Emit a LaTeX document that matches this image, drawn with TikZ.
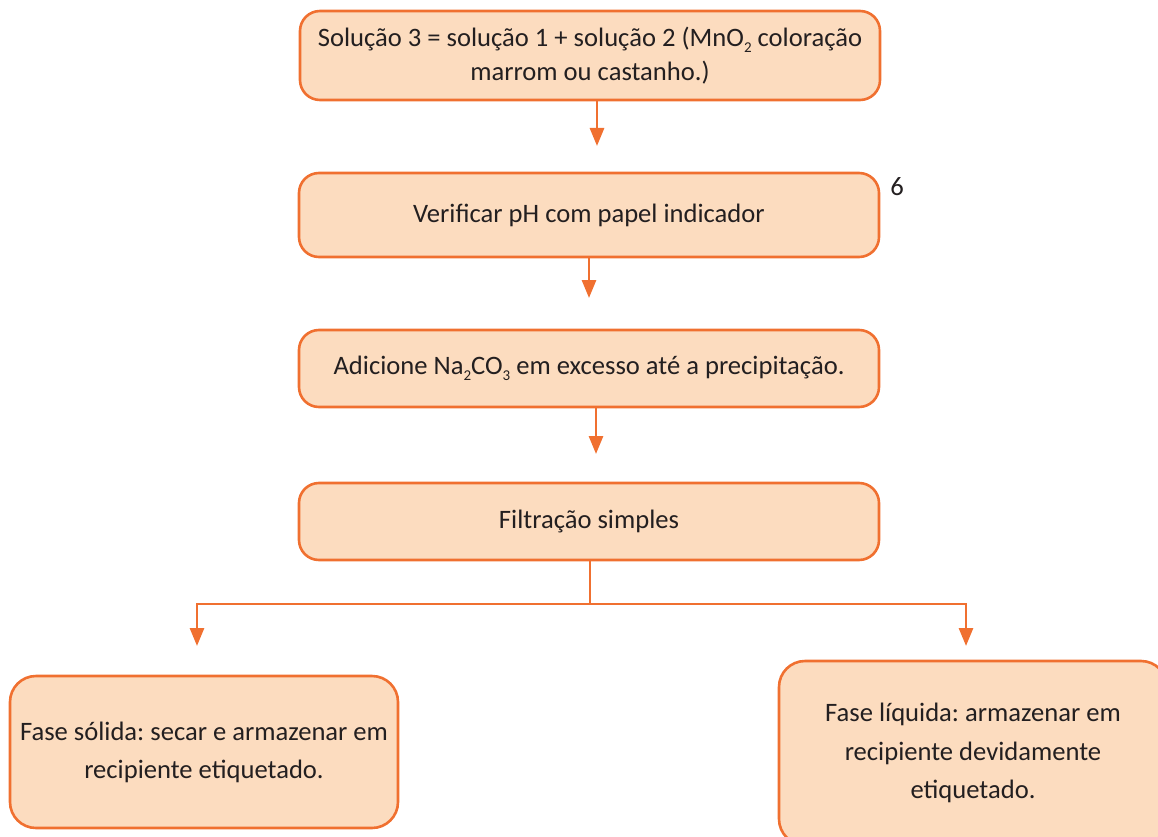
\documentclass[tikz,border=0pt]{standalone}
\usepackage{fontspec}
\setmainfont{Carlito}
\frenchspacing
\usetikzlibrary{arrows.meta}
\definecolor{peach}{RGB}{252,220,191}
\definecolor{edge}{RGB}{240,112,48}
\definecolor{ink}{RGB}{35,31,32}
\newcommand{\chemsub}[1]{\raisebox{-0.5ex}{\fontsize{15}{15}\selectfont #1}}
\begin{document}
\begin{tikzpicture}[x=1pt,y=-1pt,
  stepbox/.style={draw=edge,line width=2.6pt,fill=peach,rounded corners=20pt,
    text=ink,align=center,inner sep=0pt,font=\fontsize{26.6}{36}\selectfont},
  arr/.style={draw=edge,line width=2.8pt,-{Triangle[width=14pt,length=18pt]}},
  link/.style={draw=edge,line width=2.8pt}]
\useasboundingbox (0,0) rectangle (1158,837);
\node[stepbox,minimum width=580pt,minimum height=89pt,font=\fontsize{26.6}{34}\selectfont] (b1) at (590,55.5)
  {Solução 3 = solução 1 + solução 2 (MnO\chemsub{2} coloração\\marrom ou castanho.)};
\node[stepbox,minimum width=580pt,minimum height=84pt] (b2) at (589,215)
  {Verificar pH com papel indicador};
\node[stepbox,minimum width=580pt,minimum height=77pt] (b3) at (589,368.5)
  {Adicione Na\chemsub{2}CO\chemsub{3} em excesso até a precipitação.};
\node[stepbox,minimum width=580pt,minimum height=77pt] (b4) at (589,521.5)
  {Filtração simples};
\node[stepbox,minimum width=388pt,minimum height=152pt,rounded corners=26pt,font=\fontsize{26.6}{38}\selectfont] (b5) at (204,752)
  {Fase sólida: secar e armazenar em\\recipiente etiquetado.};
\node[stepbox,minimum width=388pt,minimum height=184pt,rounded corners=26pt,font=\fontsize{26.6}{38.5}\selectfont] (b6) at (973,753)
  {Fase líquida: armazenar em\\recipiente devidamente\\etiquetado.};
\node[text=ink,font=\fontsize{26.6}{30}\selectfont] (n6) at (897,187) {6};
% straight arrows between the stacked steps
\coordinate (t1) at (597,146);
\coordinate (t2) at (589,298);
\coordinate (t3) at (596,454);
\draw[arr] (b1.south -| t1) -- (t1);
\draw[arr] (b2.south -| t2) -- (t2);
\draw[arr] (b3.south -| t3) -- (t3);
% branching after the filtration
\coordinate (fork) at (590,604);
\coordinate (tl) at (197,646);
\coordinate (tr) at (966,646);
\draw[link] (b4.south -| fork) -- (fork);
\draw[arr] (fork) -| (tl);
\draw[arr] (fork) -| (tr);
\end{tikzpicture}
\end{document}
